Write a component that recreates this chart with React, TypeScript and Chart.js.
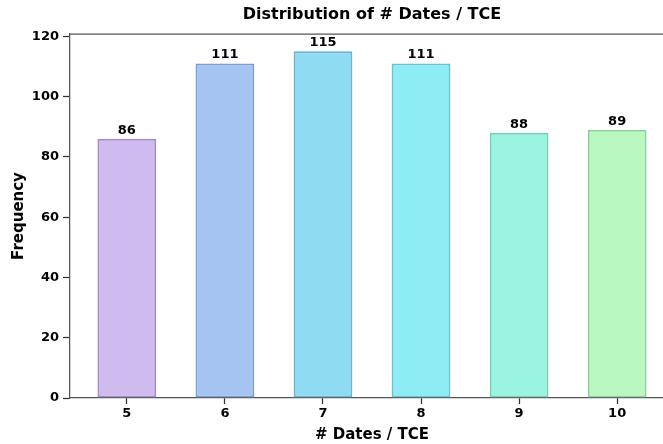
import React, { useEffect, useRef } from "react";
import { Chart, registerables } from "chart.js";

Chart.register(...registerables);

const categories = [5, 6, 7, 8, 9, 10];
const frequencies = [86, 111, 115, 111, 88, 89];
const fillColors = ["#cfbbee", "#a6c4f2", "#8fdbf2", "#8eecf4", "#9af4e1", "#baf8c2"];
const borderColors = ["#a38acb", "#7a9cd4", "#68b3d2", "#68c3cf", "#72d0b5", "#8ad29a"];
const yTicks = [0, 20, 40, 60, 80, 100, 120];
const titleText = "Distribution of # Dates / TCE";
const xTitle = "# Dates / TCE";
const yTitle = "Frequency";

const FONT = "'DejaVu Sans', sans-serif";

export default function App() {
  const ref = useRef<HTMLCanvasElement | null>(null);
  useEffect(() => {
    if (!ref.current) return;
    const labelPlugin = {
      id: "extras",
      afterDatasetsDraw(chart: any) {
        const ctx = chart.ctx;
        const meta = chart.getDatasetMeta(0);
        ctx.save();
        ctx.fillStyle = "#000";
        ctx.font = `bold 13px ${FONT}`;
        ctx.textAlign = "center";
        ctx.textBaseline = "bottom";
        meta.data.forEach((bar: any, i: number) => {
          ctx.fillText(String(frequencies[i]), bar.x, bar.y - 2);
        });
        const ca = chart.chartArea;
        ctx.strokeStyle = "#555";
        ctx.lineWidth = 1.25;
        ctx.beginPath();
        ctx.moveTo(ca.left, ca.top);
        ctx.lineTo(ca.right, ca.top);
        ctx.stroke();
        ctx.font = `bold 16px ${FONT}`;
        ctx.textBaseline = "middle";
        ctx.fillText(titleText, (ca.left + ca.right) / 2, 15);
        ctx.restore();
      },
    };
    const chart = new Chart(ref.current, {
      type: "bar",
      data: {
        datasets: [
          {
            data: categories.map((c, i) => ({ x: c, y: frequencies[i] })),
            backgroundColor: fillColors,
            borderColor: borderColors,
            borderWidth: 2,
            borderSkipped: false,
            barPercentage: 0.6,
            categoryPercentage: 1,
          },
        ],
      },
      options: {
        animation: false,
        responsive: false,
        devicePixelRatio: 1,
        layout: { padding: { top: 34, right: 26, left: 0, bottom: 0 } },
        plugins: { legend: { display: false }, tooltip: { enabled: false }, title: { display: false } },
        scales: {
          x: {
            type: "linear",
            min: 4.42,
            max: 10.58,
            offset: false,
            afterBuildTicks: (s: any) => {
              s.ticks = categories.map((v) => ({ value: v }));
            },
            afterFit: (s: any) => {
              s.height = 46;
            },
            grid: { display: true, offset: false, drawOnChartArea: false, drawTicks: true, tickLength: 6, tickColor: "#333", tickWidth: 1.25 },
            border: { display: true, color: "#555", width: 1.25 },
            ticks: { color: "#000", font: { family: FONT, weight: "bold", size: 13 }, padding: 2, autoSkip: false, maxRotation: 0 },
            title: { display: true, text: xTitle, color: "#000", font: { family: FONT, weight: "bold", size: 15 }, padding: { top: 0, bottom: 0 } },
          },
          y: {
            min: 0,
            max: 120.75,
            afterBuildTicks: (s: any) => {
              s.ticks = yTicks.map((v) => ({ value: v }));
            },
            afterFit: (s: any) => {
              s.width = 70;
            },
            grid: { display: true, drawOnChartArea: false, drawTicks: true, tickLength: 7, tickColor: "#333", tickWidth: 1.25 },
            border: { display: true, color: "#555", width: 1.25 },
            ticks: { color: "#000", font: { family: FONT, weight: "bold", size: 13 }, padding: 4 },
            title: { display: true, text: yTitle, color: "#000", font: { family: FONT, weight: "bold", size: 15 }, padding: { top: 10, bottom: 0 } },
          },
        },
      },
      plugins: [labelPlugin],
    });
    return () => chart.destroy();
  }, []);
  return (
    <div style={{ position: "fixed", left: 0, top: 0, width: 663, height: 444, overflow: "hidden", background: "#fff" }}>
      <canvas ref={ref} width={700} height={444} style={{ display: "block", width: 700, height: 444 }} />
    </div>
  );
}
